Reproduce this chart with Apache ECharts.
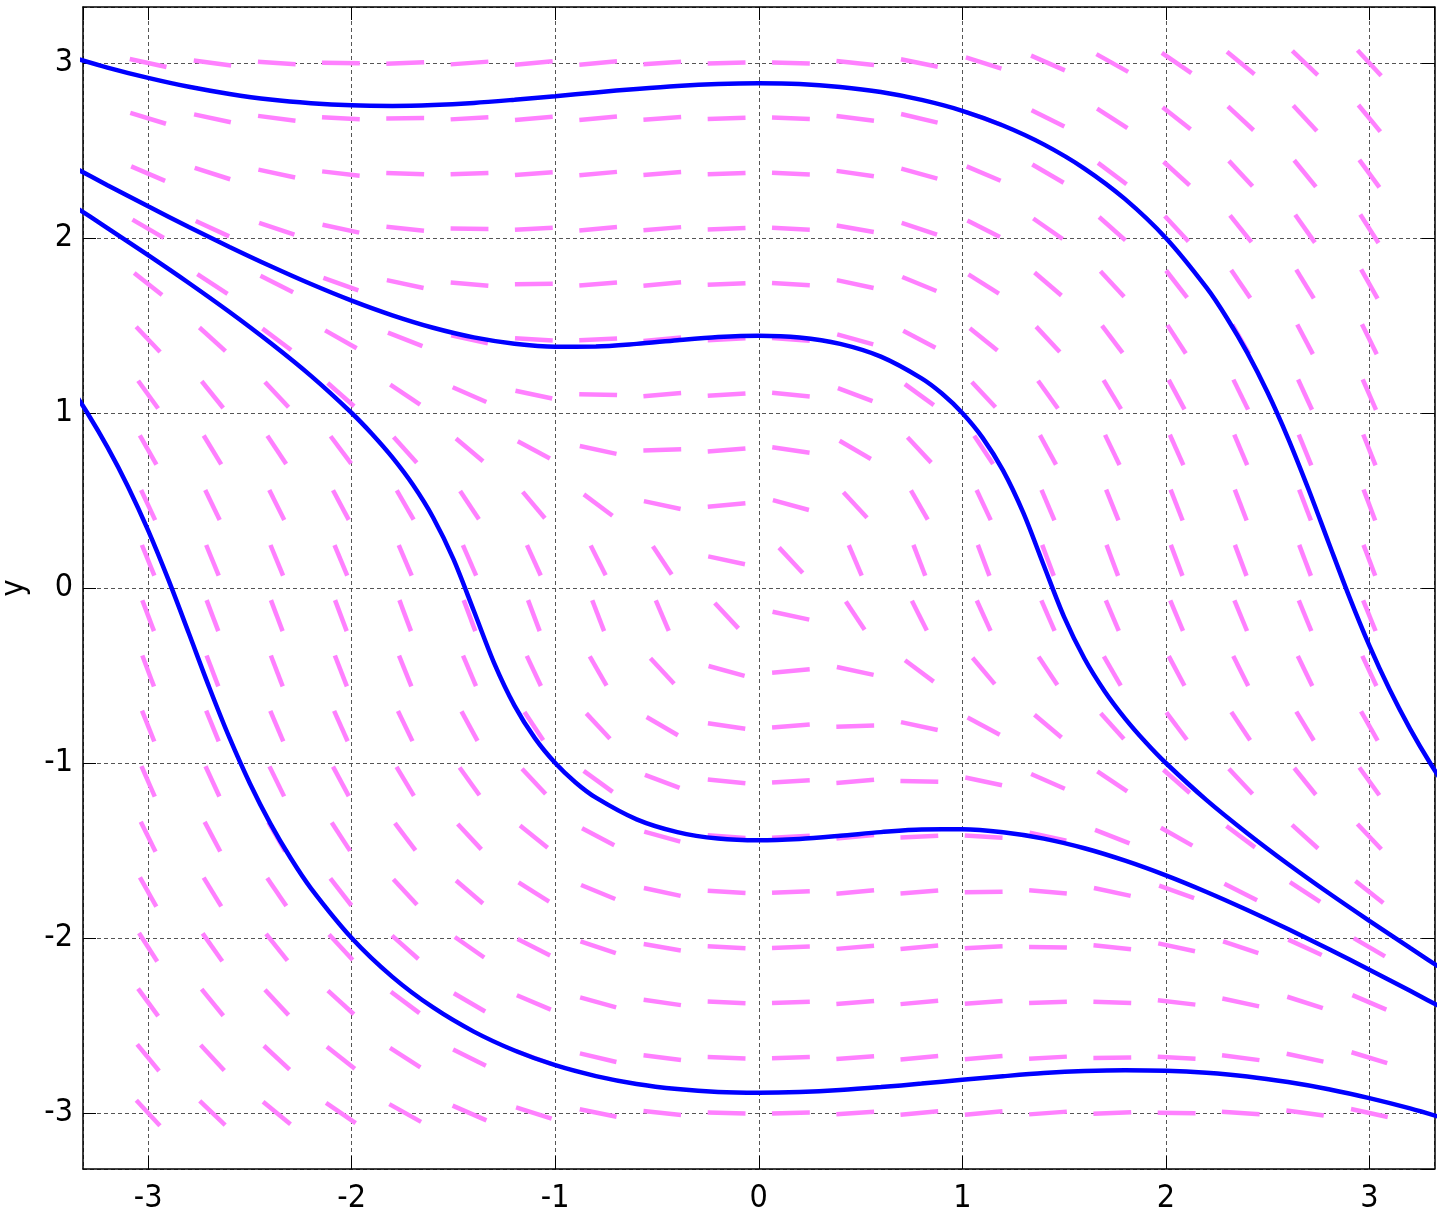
<!DOCTYPE html>
<html>
<head>
<meta charset="utf-8">
<script src="https://cdn.jsdelivr.net/npm/echarts@6/dist/echarts.min.js"></script>
<style>
html,body{margin:0;padding:0;background:#fff;}
#chart{width:1441px;height:1217px;}
</style>
</head>
<body>
<div id="chart"></div>
<script>
// grid of direction-field sample points
const gridX = [-3, -2.684, -2.368, -2.053, -1.737, -1.421, -1.105, -0.789, -0.474, -0.158, 0.158, 0.474, 0.789, 1.105, 1.421, 1.737, 2.053, 2.368, 2.684, 3];
const gridY = [-3, -2.684, -2.368, -2.053, -1.737, -1.421, -1.105, -0.789, -0.474, -0.158, 0.158, 0.474, 0.789, 1.105, 1.421, 1.737, 2.053, 2.368, 2.684, 3];
// slope dy/dx of each dash; one row per gridY value (bottom row first), one column per gridX value
const slopes = [
  [-1.250, -1.103, -0.952, -0.800, -0.649, -0.503, -0.365, -0.239, -0.129, -0.038, 0.032, 0.080, 0.104, 0.105, 0.085, 0.046, -0.010, -0.080, -0.161, -0.250],
  [-1.408, -1.250, -1.085, -0.916, -0.746, -0.579, -0.420, -0.275, -0.147, -0.043, 0.036, 0.086, 0.107, 0.099, 0.066, 0.011, -0.063, -0.151, -0.250, -0.356],
  [-1.596, -1.428, -1.250, -1.063, -0.871, -0.679, -0.493, -0.321, -0.171, -0.049, 0.040, 0.092, 0.107, 0.087, 0.036, -0.041, -0.139, -0.250, -0.370, -0.495],
  [-1.817, -1.644, -1.455, -1.250, -1.033, -0.811, -0.592, -0.385, -0.203, -0.057, 0.045, 0.099, 0.103, 0.063, -0.015, -0.123, -0.250, -0.389, -0.534, -0.679],
  [-2.073, -1.903, -1.709, -1.491, -1.250, -0.993, -0.731, -0.477, -0.250, -0.069, 0.052, 0.105, 0.090, 0.017, -0.101, -0.250, -0.415, -0.587, -0.756, -0.919],
  [-2.359, -2.205, -2.019, -1.799, -1.541, -1.250, -0.935, -0.616, -0.321, -0.086, 0.061, 0.107, 0.056, -0.072, -0.250, -0.453, -0.663, -0.865, -1.055, -1.227],
  [-2.656, -2.534, -2.379, -2.180, -1.929, -1.618, -1.250, -0.843, -0.442, -0.115, 0.074, 0.096, -0.029, -0.250, -0.513, -0.780, -1.028, -1.250, -1.443, -1.608],
  [-2.920, -2.849, -2.750, -2.611, -2.413, -2.135, -1.750, -1.250, -0.679, -0.171, 0.092, 0.036, -0.250, -0.621, -0.981, -1.291, -1.545, -1.750, -1.915, -2.048],
  [-3.085, -3.066, -3.036, -2.985, -2.899, -2.750, -2.487, -2.019, -1.250, -0.321, 0.107, -0.250, -0.865, -1.382, -1.750, -2.007, -2.189, -2.321, -2.421, -2.497],
  [-3.080, -3.086, -3.092, -3.099, -3.105, -3.107, -3.096, -3.036, -2.750, -1.250, -0.250, -1.750, -2.321, -2.558, -2.679, -2.750, -2.797, -2.829, -2.853, -2.871],
  [-2.871, -2.853, -2.829, -2.797, -2.750, -2.679, -2.558, -2.321, -1.750, -0.250, -1.250, -2.750, -3.036, -3.096, -3.107, -3.105, -3.099, -3.092, -3.086, -3.080],
  [-2.497, -2.421, -2.321, -2.189, -2.007, -1.750, -1.382, -0.865, -0.250, 0.107, -0.321, -1.250, -2.019, -2.487, -2.750, -2.899, -2.985, -3.036, -3.066, -3.085],
  [-2.048, -1.915, -1.750, -1.545, -1.291, -0.981, -0.621, -0.250, 0.036, 0.092, -0.171, -0.679, -1.250, -1.750, -2.135, -2.413, -2.611, -2.750, -2.849, -2.920],
  [-1.608, -1.443, -1.250, -1.028, -0.780, -0.513, -0.250, -0.029, 0.096, 0.074, -0.115, -0.442, -0.843, -1.250, -1.618, -1.929, -2.180, -2.379, -2.534, -2.656],
  [-1.227, -1.055, -0.865, -0.663, -0.453, -0.250, -0.072, 0.056, 0.107, 0.061, -0.086, -0.321, -0.616, -0.935, -1.250, -1.541, -1.799, -2.019, -2.205, -2.359],
  [-0.919, -0.756, -0.587, -0.415, -0.250, -0.101, 0.017, 0.090, 0.105, 0.052, -0.069, -0.250, -0.477, -0.731, -0.993, -1.250, -1.491, -1.709, -1.903, -2.073],
  [-0.679, -0.534, -0.389, -0.250, -0.123, -0.015, 0.063, 0.103, 0.099, 0.045, -0.057, -0.203, -0.385, -0.592, -0.811, -1.033, -1.250, -1.455, -1.644, -1.817],
  [-0.495, -0.370, -0.250, -0.139, -0.041, 0.036, 0.087, 0.107, 0.092, 0.040, -0.049, -0.171, -0.321, -0.493, -0.679, -0.871, -1.063, -1.250, -1.428, -1.596],
  [-0.356, -0.250, -0.151, -0.063, 0.011, 0.066, 0.099, 0.107, 0.086, 0.036, -0.043, -0.147, -0.275, -0.420, -0.579, -0.746, -0.916, -1.085, -1.250, -1.408],
  [-0.250, -0.161, -0.080, -0.010, 0.046, 0.085, 0.105, 0.104, 0.080, 0.032, -0.038, -0.129, -0.239, -0.365, -0.503, -0.649, -0.800, -0.952, -1.103, -1.250]
];
// solution curves [x, y]
const curveTop = [[-3.4,3.042],[-3.2,2.974],[-3.0,2.915],[-2.8,2.864],[-2.6,2.823],[-2.4,2.791],[-2.2,2.770],[-2.0,2.758],[-1.8,2.755],[-1.6,2.760],[-1.4,2.772],[-1.2,2.790],[-1.0,2.810],[-0.8,2.832],[-0.6,2.852],[-0.4,2.869],[-0.2,2.880],[0,2.884],[0.2,2.880],[0.4,2.863],[0.6,2.834],[0.8,2.789],[1.0,2.727],[1.2,2.643],[1.4,2.535],[1.6,2.397],[1.8,2.222],[2.0,2.000],[2.2,1.716],[2.3,1.543],[2.4,1.345],[2.5,1.117],[2.6,0.857],[2.7,0.567],[2.8,0.259],[2.9,-0.046],[3.0,-0.329],[3.1,-0.582],[3.2,-0.805],[3.3,-1.003],[3.4,-1.181]];
const curveUpper = [[-3.4,2.425],[-3.2,2.302],[-3.0,2.181],[-2.8,2.063],[-2.6,1.949],[-2.4,1.840],[-2.2,1.737],[-2.0,1.642],[-1.8,1.558],[-1.6,1.487],[-1.4,1.432],[-1.2,1.396],[-1.0,1.379],[-0.8,1.380],[-0.6,1.395],[-0.4,1.416],[-0.2,1.434],[0,1.442],[0.2,1.432],[0.4,1.395],[0.6,1.322],[0.8,1.198],[0.9,1.111],[1.0,1.000],[1.1,0.858],[1.2,0.672],[1.3,0.429],[1.4,0.130],[1.5,-0.165],[1.6,-0.403],[1.7,-0.591],[1.8,-0.746],[1.9,-0.880],[2.0,-1.000],[2.2,-1.212],[2.4,-1.401],[2.6,-1.577],[2.8,-1.743],[3.0,-1.902],[3.2,-2.057],[3.4,-2.209]];
const curveLower = [[-3.4,2.209],[-3.2,2.057],[-3.0,1.902],[-2.8,1.743],[-2.6,1.577],[-2.4,1.401],[-2.2,1.212],[-2.0,1.000],[-1.9,0.880],[-1.8,0.746],[-1.7,0.591],[-1.6,0.403],[-1.5,0.165],[-1.4,-0.130],[-1.3,-0.429],[-1.2,-0.672],[-1.1,-0.858],[-1.0,-1.000],[-0.9,-1.111],[-0.8,-1.198],[-0.6,-1.322],[-0.4,-1.395],[-0.2,-1.432],[0,-1.442],[0.2,-1.434],[0.4,-1.416],[0.6,-1.395],[0.8,-1.380],[1.0,-1.379],[1.2,-1.396],[1.4,-1.432],[1.6,-1.487],[1.8,-1.558],[2.0,-1.642],[2.2,-1.737],[2.4,-1.840],[2.6,-1.949],[2.8,-2.063],[3.0,-2.181],[3.2,-2.302],[3.4,-2.425]];
const curveBottom = [[-3.4,1.181],[-3.3,1.003],[-3.2,0.805],[-3.1,0.582],[-3.0,0.329],[-2.9,0.046],[-2.8,-0.259],[-2.7,-0.567],[-2.6,-0.857],[-2.5,-1.117],[-2.4,-1.345],[-2.3,-1.543],[-2.2,-1.716],[-2.0,-2.000],[-1.8,-2.222],[-1.6,-2.397],[-1.4,-2.535],[-1.2,-2.643],[-1.0,-2.727],[-0.8,-2.789],[-0.6,-2.834],[-0.4,-2.863],[-0.2,-2.880],[0,-2.884],[0.2,-2.880],[0.4,-2.869],[0.6,-2.852],[0.8,-2.832],[1.0,-2.810],[1.2,-2.790],[1.4,-2.772],[1.6,-2.760],[1.8,-2.755],[2.0,-2.758],[2.2,-2.770],[2.4,-2.791],[2.6,-2.823],[2.8,-2.864],[3.0,-2.915],[3.2,-2.974],[3.4,-3.042]];
const tickValues = [-3, -2, -1, 0, 1, 2, 3];

const AX_MIN = -3.32, AX_MAX = 3.32;
const DASH_LEN = 0.186;
const FONT = "'Liberation Sans Narrow', 'DejaVu Sans Condensed', 'Liberation Sans', Arial, sans-serif";

const fieldData = [];
for (let j = 0; j < gridY.length; j++) {
  for (let i = 0; i < gridX.length; i++) {
    fieldData.push([gridX[i], gridY[j], slopes[j][i]]);
  }
}

function labelFmt(v) {
  for (const t of tickValues) if (Math.abs(v - t) < 1e-6) return String(t);
  return '';
}

const chart = echarts.init(document.getElementById('chart'), null, {renderer: 'canvas'});
const frameLine = {show: true, onZero: false, lineStyle: {color: '#000', width: 1.5}};
const tick = {show: true, inside: true, length: 13, lineStyle: {color: '#000', width: 1}};
const split = {show: true, lineStyle: {color: '#555', width: 1, type: [4, 3]}};
const lbl = {fontFamily: FONT, fontSize: 32, color: '#000', formatter: labelFmt, showMinLabel: false, showMaxLabel: false};

chart.setOption({
  animation: false,
  backgroundColor: '#fff',
  grid: {left: 83, right: 6.5, top: 7, bottom: 48, containLabel: false, outerBoundsMode: 'none'},
  xAxis: [
    {type: 'value', min: AX_MIN, max: AX_MAX, minInterval: 1, maxInterval: 1, position: 'bottom',
     axisLine: frameLine, axisTick: tick, splitLine: split,
     axisLabel: Object.assign({margin: 14}, lbl)},
    {type: 'value', min: AX_MIN, max: AX_MAX, minInterval: 1, maxInterval: 1, position: 'top',
     axisLine: frameLine, axisTick: tick, splitLine: {show: false}, axisLabel: {show: false}}
  ],
  yAxis: [
    {type: 'value', min: AX_MIN, max: AX_MAX, minInterval: 1, maxInterval: 1, position: 'left',
     name: 'y', nameLocation: 'middle', nameRotate: 90, nameGap: 52,
     nameTextStyle: {fontFamily: FONT, fontSize: 32, color: '#000'},
     axisLine: frameLine, axisTick: tick, splitLine: split,
     axisLabel: Object.assign({margin: 10}, lbl)},
    {type: 'value', min: AX_MIN, max: AX_MAX, minInterval: 1, maxInterval: 1, position: 'right',
     axisLine: frameLine, axisTick: tick, splitLine: {show: false}, axisLabel: {show: false}}
  ],
  series: [
    {
      type: 'custom',
      xAxisIndex: 0, yAxisIndex: 0,
      data: fieldData,
      clip: true,
      z: 2,
      renderItem: function (params, api) {
        const x = api.value(0), y = api.value(1), s = api.value(2);
        const n = Math.sqrt(1 + s * s);
        const hx = DASH_LEN / 2 / n, hy = DASH_LEN / 2 * s / n;
        const p1 = api.coord([x - hx, y - hy]);
        const p2 = api.coord([x + hx, y + hy]);
        return {type: 'line', shape: {x1: p1[0], y1: p1[1], x2: p2[0], y2: p2[1]},
                style: {stroke: '#ff80ff', lineWidth: 4.5, lineCap: 'butt'}};
      }
    },
    ...[curveTop, curveUpper, curveLower, curveBottom].map(c => ({
      type: 'line', xAxisIndex: 0, yAxisIndex: 0, data: c, showSymbol: false, symbol: 'none',
      smooth: 0.3, clip: true, z: 3,
      lineStyle: {color: '#0000ff', width: 4.5}
    }))
  ]
});
</script>
</body>
</html>
